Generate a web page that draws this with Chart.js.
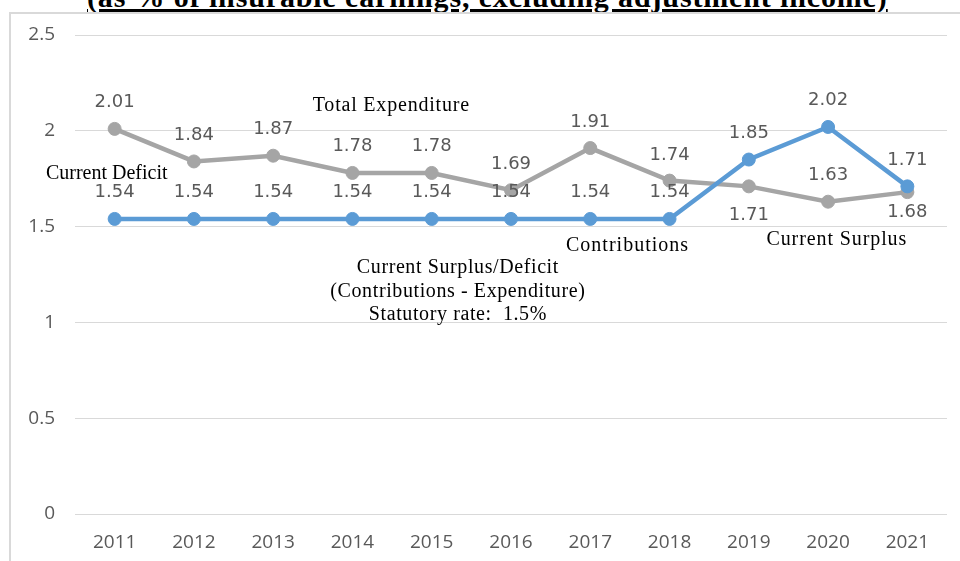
<!DOCTYPE html>
<html>
<head>
<meta charset="utf-8">
<title>Contributions and Total Expenditure</title>
<script src="https://cdn.jsdelivr.net/npm/chart.js@4.4.1/dist/chart.umd.min.js"></script>
<style>
  html, body { margin: 0; padding: 0; background: #fff; }
  #wrap { position: relative; width: 960px; height: 561px; overflow: hidden; }
  #title {
    position: absolute; left: 87px; top: -18px;
    font: bold 30px "Liberation Serif", "Times New Roman", serif;
    line-height: 30px; letter-spacing: 0.86px; white-space: nowrap; color: #000;
    text-decoration: underline; text-decoration-thickness: 3px; text-underline-offset: 2px;
  }
  #frame {
    position: absolute; left: 9px; top: 12px; width: 970px; height: 570px;
    border-left: 2px solid #d9d9d9; border-top: 2px solid #d9d9d9;
  }
  canvas { position: absolute; left: 0; top: 0; }
</style>
</head>
<body>
<div id="wrap">
  <div id="title">(as % of insurable earnings, excluding adjustment income)</div>
  <div id="frame"></div>
  <canvas id="grafico" width="960" height="561"></canvas>
</div>
<script>
// values in % of insurable earnings
const years = ['2011', '2012', '2013', '2014', '2015', '2016', '2017', '2018', '2019', '2020', '2021'];
const totalExpenditure = [2.01, 1.84, 1.87, 1.78, 1.78, 1.69, 1.91, 1.74, 1.71, 1.63, 1.68];
const contributions = [1.54, 1.54, 1.54, 1.54, 1.54, 1.54, 1.54, 1.54, 1.85, 2.02, 1.71];
const yTicks = [0, 0.5, 1, 1.5, 2, 2.5];

// where each value label sits relative to its point (px, + is below)
const expLabelDy = [-28, -28, -28, -28, -28, -28, -28, -27, 27, -28, 18];
const contLabelDy = [-28, -28, -28, -28, -28, -28, -28, -28, -28, -28, -28];

// free text placed in data units (category index, value of baseline)
const notes = [
    { text: 'Total Expenditure', i: 3.49, v: 2.103, sp: 0.8 },
    { text: 'Current Deficit', i: -0.10, v: 1.748, sp: 0 },
    { text: 'Contributions', i: 6.47, v: 1.373, sp: 1 },
    { text: 'Current Surplus', i: 9.11, v: 1.404, sp: 0.9 },
    { text: 'Current Surplus/Deficit', i: 4.33, v: 1.258, sp: 0.6 },
    { text: '(Contributions - Expenditure)', i: 4.33, v: 1.133, sp: 0.6 },
    { text: 'Statutory rate:  1.5%', i: 4.33, v: 1.013, sp: 0.6 }
];

const valueLabels = {
    id: 'valueLabels',
    afterDatasetsDraw(chart) {
        const ctx = chart.ctx;
        ctx.save();
        ctx.font = '18px "DejaVu Sans"';
        ctx.fillStyle = '#595959';
        ctx.textAlign = 'center';
        ctx.textBaseline = 'alphabetic';
        chart.data.datasets.forEach((ds, d) => {
            const meta = chart.getDatasetMeta(d);
            meta.data.forEach((pt, j) => {
                ctx.fillText(ds.data[j].toFixed(2), pt.x, pt.y + ds.labelDy[j] + 6.5);
            });
        });
        ctx.restore();
    }
};

const textNotes = {
    id: 'textNotes',
    afterDraw(chart) {
        const ctx = chart.ctx;
        const x = chart.scales.x;
        const y = chart.scales.y;
        ctx.save();
        ctx.font = '20px "Liberation Serif", "Times New Roman", serif';
        ctx.fillStyle = '#000';
        ctx.textAlign = 'center';
        ctx.textBaseline = 'alphabetic';
        notes.forEach(n => {
            ctx.letterSpacing = n.sp + 'px';
            ctx.fillText(n.text, x.getPixelForValue(n.i), y.getPixelForValue(n.v));
        });
        ctx.restore();
    }
};

const ctx = document.getElementById('grafico');

new Chart(ctx, {
    type: 'line',
    data: {
        labels: years,
        datasets: [{
            label: 'Total Expenditure',
            data: totalExpenditure,
            labelDy: expLabelDy,
            borderColor: '#a5a5a5',
            backgroundColor: '#a5a5a5',
            borderWidth: 4.5,
            pointRadius: 6.5,
            pointBorderWidth: 1,
            order: 1
        }, {
            label: 'Contributions',
            data: contributions,
            labelDy: contLabelDy,
            borderColor: '#5b9bd5',
            backgroundColor: '#5b9bd5',
            borderWidth: 4.5,
            pointRadius: 6.5,
            pointBorderWidth: 1,
            order: 0
        }]
    },
    options: {
        responsive: false,
        devicePixelRatio: 1,
        animation: false,
        layout: { padding: { top: 35, right: 13, bottom: 0, left: 0 } },
        plugins: {
            legend: { display: false },
            tooltip: { enabled: false }
        },
        scales: {
            x: {
                offset: true,
                grid: { display: false, drawTicks: false },
                border: { display: false },
                ticks: {
                    color: '#595959',
                    padding: 17,
                    font: { family: '"Open Sans"', size: 19 }
                },
                afterFit: s => { s.height = 47; }
            },
            y: {
                min: 0,
                max: 2.5,
                afterBuildTicks: s => { s.ticks = yTicks.map(v => ({ value: v })); },
                grid: { color: '#d9d9d9', lineWidth: 1, drawTicks: false },
                border: { display: false },
                ticks: {
                    color: '#595959',
                    padding: 20,
                    font: { family: '"Open Sans"', size: 19 },
                    callback: v => String(v)
                },
                afterFit: s => { s.width = 75; }
            }
        }
    },
    plugins: [valueLabels, textNotes]
});
</script>
</body>
</html>
